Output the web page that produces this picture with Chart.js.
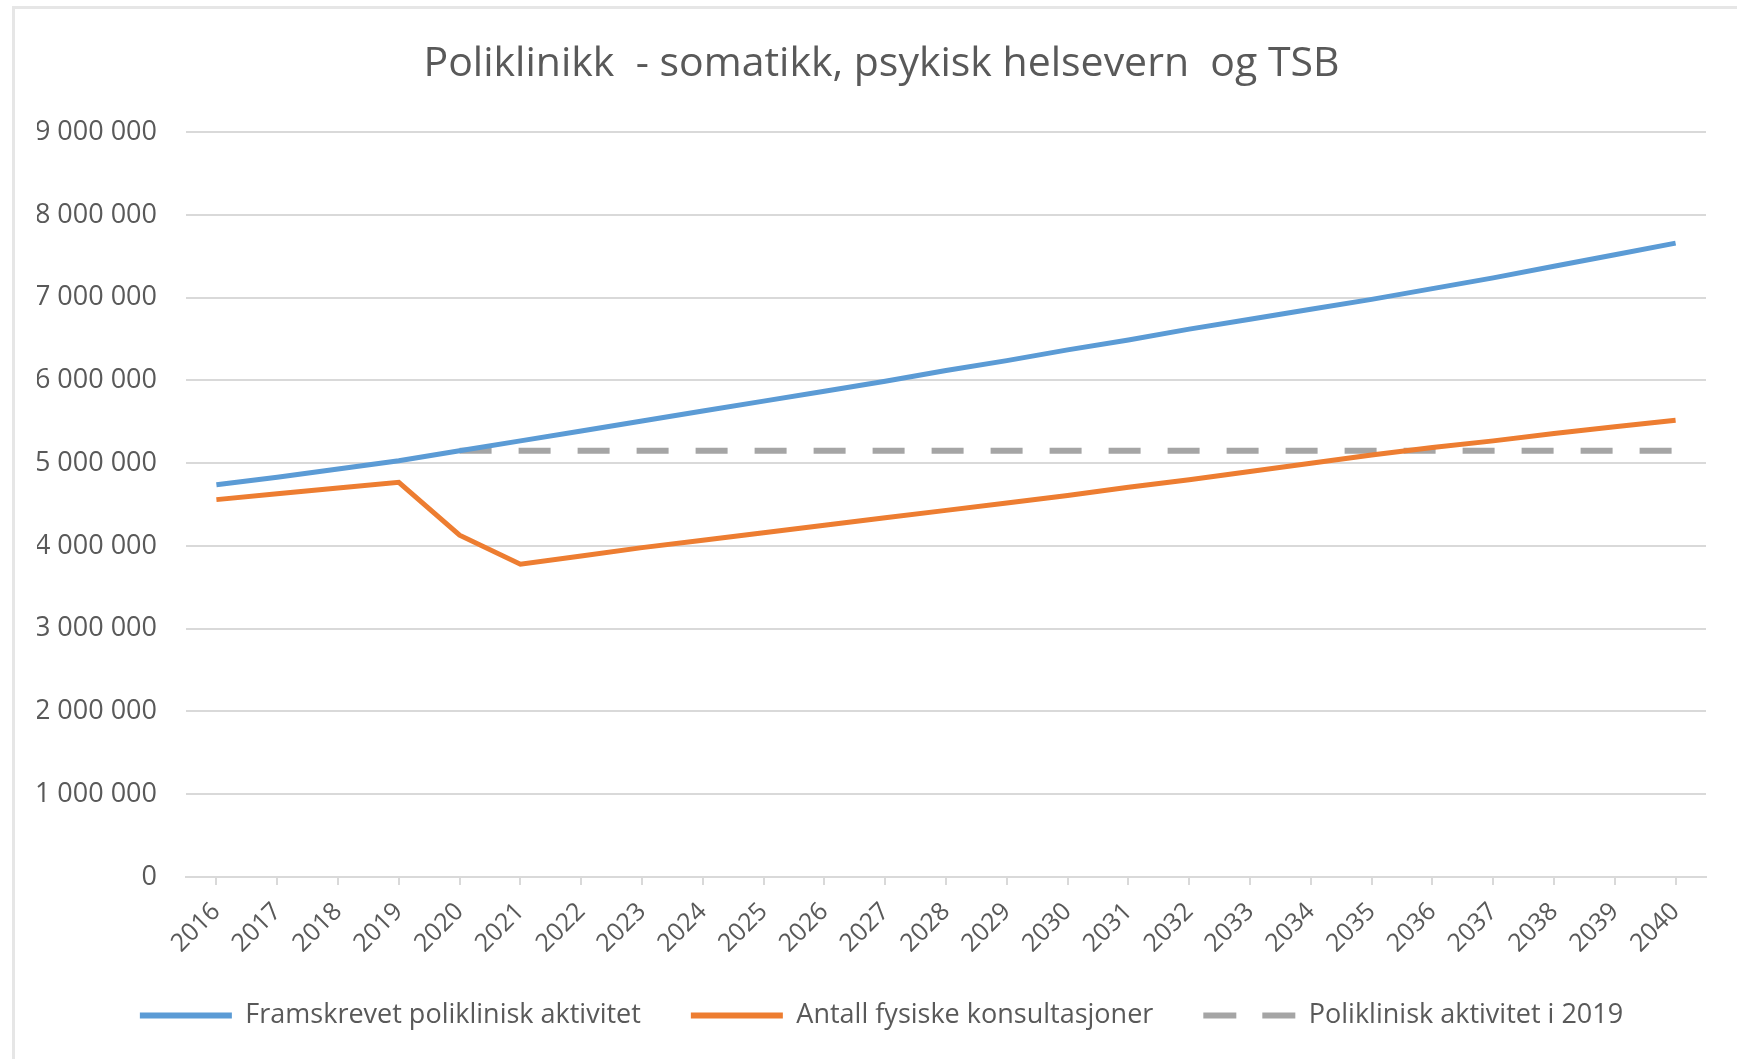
<!DOCTYPE html>
<html>
<head>
<meta charset="utf-8">
<title>Poliklinikk</title>
<script src="https://cdn.jsdelivr.net/npm/chart.js@4.4.0/dist/chart.umd.min.js"></script>
<style>
  html, body { margin:0; padding:0; background:#fff; overflow:hidden; }
  #frame { position:absolute; left:12px; top:6px; width:1800px; height:1100px; border-left:3px solid #e6e6e6; border-top:3px solid #e6e6e6; }
  #wrap { position:absolute; left:0; top:0; width:1737px; height:1059px; }
</style>
</head>
<body>
<div id="frame"></div>
<div id="wrap"><canvas id="myChart" width="1737" height="1059"></canvas></div>
<script>
var years = ["2016","2017","2018","2019","2020","2021","2022","2023","2024","2025","2026","2027","2028",
             "2029","2030","2031","2032","2033","2034","2035","2036","2037","2038","2039","2040"]

// Framskrevet poliklinisk aktivitet
var framskrevet = [4740000, 4830000, 4930000, 5030000, 5150000, 5270000, 5390000, 5510000, 5630000, 5750000,
                   5870000, 5990000, 6120000, 6240000, 6370000, 6490000, 6620000, 6740000, 6860000, 6980000,
                   7110000, 7240000, 7380000, 7520000, 7660000]

// Antall fysiske konsultasjoner
var fysiske = [4560000, 4630000, 4700000, 4770000, 4130000, 3780000, 3880000, 3980000, 4070000, 4160000,
               4250000, 4340000, 4430000, 4520000, 4610000, 4710000, 4800000, 4900000, 5000000, 5100000,
               5190000, 5270000, 5360000, 5440000, 5520000]

// Poliklinisk aktivitet i 2019 (flat line from 2020)
var aktivitet2019 = [null, null, null, null, 5150000, 5150000, 5150000, 5150000, 5150000, 5150000,
                     5150000, 5150000, 5150000, 5150000, 5150000, 5150000, 5150000, 5150000, 5150000, 5150000,
                     5150000, 5150000, 5150000, 5150000, 5150000]

var yMax = 9000000
var yStep = 1000000

function fmt(v){
    return String(v).replace(/\B(?=(\d{3})+(?!\d))/g, " ")
}

Chart.defaults.font.family = "'Open Sans', sans-serif"
Chart.defaults.color = "#595959"

// nudge title and legend a bit to the right, like the excel original
var shiftBoxes = {
    id: 'shiftBoxes',
    afterLayout: function(c){
        var dx = 10
        ;[c.titleBlock, c.legend].forEach(function(b){
            if (b) { b.left += dx; b.right += dx }
        })
    }
}

var myChart = document.getElementById("myChart").getContext('2d')

var chart = new Chart(myChart, {
    type: 'line',
    data: {
        labels: years,
        datasets: [
            {
                label: "Framskrevet poliklinisk aktivitet",
                data: framskrevet,
                borderColor: "#5b9bd5",
                backgroundColor: "#5b9bd5",
                borderWidth: 5,
                pointRadius: 0
            },
            {
                label: "Antall fysiske konsultasjoner",
                data: fysiske,
                borderColor: "#ed7d31",
                backgroundColor: "#ed7d31",
                borderWidth: 5,
                pointRadius: 0
            },
            {
                label: "Poliklinisk aktivitet i 2019",
                data: aktivitet2019,
                borderColor: "#a5a5a5",
                backgroundColor: "#a5a5a5",
                borderWidth: 6,
                borderDash: [32, 27],
                pointRadius: 0
            }
        ]
    },
    plugins: [shiftBoxes],
    options: {
        responsive: false,
        animation: false,
        devicePixelRatio: 1,
        layout: { padding: { left: 37, right: 31, top: 0, bottom: 20 } },
        plugins: {
            title: {
                display: true,
                text: "Poliklinikk  - somatikk, psykisk helsevern  og TSB",
                color: "#595959",
                font: { size: 41, weight: 'normal' },
                padding: { top: 40, bottom: 43 }
            },
            legend: {
                position: 'bottom',
                labels: {
                    usePointStyle: true,
                    pointStyle: 'line',
                    pointStyleWidth: 92,
                    color: "#595959",
                    font: { size: 27 },
                    padding: 50,
                    generateLabels: function(c){
                        var items = Chart.defaults.plugins.legend.labels.generateLabels(c)
                        items.forEach(function(it){
                            var ds = c.data.datasets[it.datasetIndex]
                            it.strokeStyle = ds.borderColor
                            it.lineWidth = 6
                            it.lineDash = ds.borderDash ? [33, 26] : []
                            it.lineCap = 'butt'
                        })
                        return items
                    }
                }
            },
            tooltip: { enabled: false }
        },
        scales: {
            x: {
                offset: true,
                grid: { drawOnChartArea: false, color: "#d9d9d9", lineWidth: 2, tickLength: 8 },
                border: { color: "#d9d9d9", width: 2 },
                ticks: { minRotation: 45, maxRotation: 45, autoSkip: false, padding: 12, font: { size: 25 } },
                afterFit: function(s){ s.height = 75 }
            },
            y: {
                min: 0,
                max: yMax,
                grid: { color: "#d9d9d9", lineWidth: 2, drawTicks: false },
                border: { display: false },
                ticks: { stepSize: yStep, padding: 29, font: { size: 27 }, callback: function(v){ return fmt(v) } },
                afterFit: function(s){ s.width = 149 }
            }
        }
    }
})
</script>
</body>
</html>
